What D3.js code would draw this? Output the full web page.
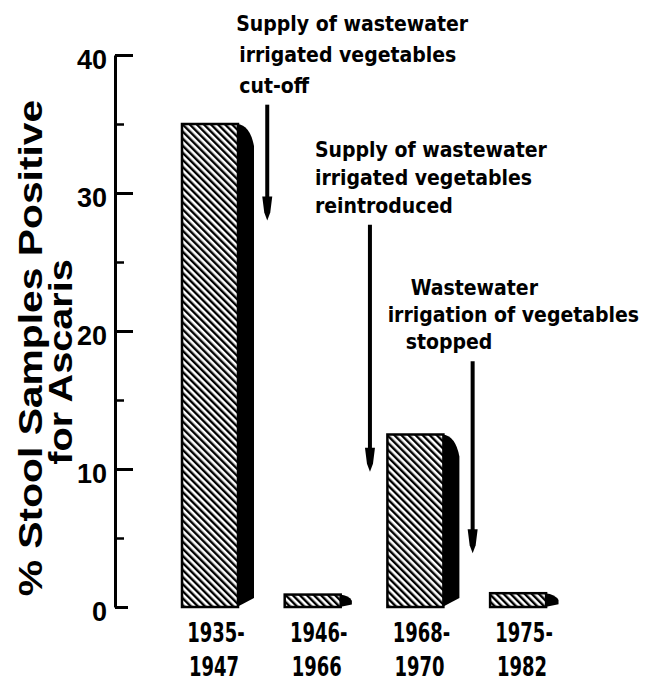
<!DOCTYPE html>
<html>
<head>
<meta charset="utf-8">
<script src="https://cdn.jsdelivr.net/npm/d3@7"></script>
<style>
  body { margin: 0; background: #fff; }
  svg { display: block; }
</style>
</head>
<body>
<div id="chart"></div>
<script>
// periods and % of stool samples positive for Ascaris
var periods = ["1935-1947", "1946-1966", "1968-1970", "1975-1982"];
var positive = [35, 0.9, 12.5, 1];

var yTicks = [0, 10, 20, 30, 40];
var yMinorTicks = [5, 15, 25, 35];

// events shown as arrows: text lines, period the arrow follows, arrow top / tip (in %)
var eventText = [
  ["Supply of wastewater", "irrigated  vegetables", "cut-off"],
  ["Supply of wastewater", "irrigated  vegetables", "reintroduced"],
  ["Wastewater", "irrigation of vegetables", "stopped"]
];
var eventAfter = ["1935-1947", "1946-1966", "1968-1970"];
var eventFrom = [36.4, 27.7, 17.8];
var eventTo = [28, 9.8, 3.9];

var width = 651, height = 682;
var narrow = "'DejaVu Sans Condensed', 'Liberation Sans Narrow', sans-serif";

var svg = d3.select("#chart")
            .append("svg")
            .attr("width", width)
            .attr("height", height);

var defs = svg.append("defs");
var pat = defs.append("pattern")
   .attr("id", "hatch")
   .attr("patternUnits", "userSpaceOnUse")
   .attr("width", 5)
   .attr("height", 5)
   .attr("patternTransform", "rotate(-45)");
pat.append("rect").attr("width", 5).attr("height", 5).attr("fill", "#fff");
pat.append("line")
   .attr("x1", 1.2).attr("y1", 0)
   .attr("x2", 1.2).attr("y2", 5)
   .attr("stroke", "#000")
   .attr("stroke-width", 2.4);

var y = d3.scaleLinear().domain([0, 40]).range([607, 55]);
var x = d3.scaleBand().domain(periods).range([182, 182 + 4 * 102.7]).padding(0).align(0);

var frontW = 56, sideW = 16;
var axisX = 115;

// y axis: labels on the left, ticks pointing right
var yAxis = svg.append("g")
   .attr("transform", "translate(" + axisX + ",0)")
   .call(d3.axisLeft(y).tickValues(yTicks).tickSizeInner(-18).tickSizeOuter(0).tickPadding(8));
yAxis.select(".domain").attr("stroke-width", 3);
yAxis.selectAll(".tick line").attr("stroke-width", 3);
yAxis.selectAll(".tick text")
   .attr("font-family", "'Liberation Sans', Arial, sans-serif")
   .attr("font-weight", "bold")
   .attr("font-size", 27)
   .attr("fill", "#000")
   .attr("dy", "0.5em");
yAxis.selectAll(".tick").filter(function(d) { return d === 0; })
   .select("line").attr("x2", 13);

var yMinor = svg.append("g")
   .attr("transform", "translate(" + axisX + ",0)")
   .call(d3.axisLeft(y).tickValues(yMinorTicks).tickSizeInner(-9).tickSizeOuter(0).tickFormat(""));
yMinor.select(".domain").remove();
yMinor.selectAll(".tick line").attr("stroke-width", 2.5);

// y axis title (wide bold face, stretched along the text)
var title = svg.append("g")
   .attr("font-family", "'Liberation Sans', Arial, sans-serif")
   .attr("font-weight", "bold")
   .attr("fill", "#000")
   .attr("text-anchor", "middle");
title.append("text")
   .attr("transform", "translate(42,348) rotate(-90) scale(1.2,1)")
   .attr("font-size", 34)
   .text("% Stool Samples Positive");
title.append("text")
   .attr("transform", "translate(72,362) rotate(-90) scale(1.2,1)")
   .attr("font-size", 33)
   .text("for Ascaris");

// bars: hatched front face and a solid side with a rounded top corner
var bars = svg.selectAll(".bar")
   .data(periods)
   .enter()
   .append("g")
   .attr("class", "bar");

bars.append("path")
   .attr("fill", "#000")
   .attr("d", function(d, i) {
      var fr = x(d) + frontW, top = y(positive[i]), base = y(0);
      var h = base - top;
      var sw = Math.min(sideW, h * 0.9);
      var ch = Math.min(22, h * 0.5), sl = Math.min(9, h * 0.2);
      return "M" + (fr - 1) + "," + top +
             " Q" + (fr + sw * 0.75) + "," + (top + 1) + " " + (fr + sw) + "," + (top + ch) +
             " L" + (fr + sw) + "," + (base - sl) +
             " L" + (fr - 1) + "," + base + " Z";
   });

bars.append("rect")
   .attr("x", function(d) { return x(d); })
   .attr("y", function(d, i) { return y(positive[i]); })
   .attr("width", frontW)
   .attr("height", function(d, i) { return y(0) - y(positive[i]); })
   .attr("fill", "url(#hatch)")
   .attr("stroke", "#000")
   .attr("stroke-width", 2.5);

// period labels, two lines, condensed heavy digits
var labelStyle = function(sel) {
  sel.attr("font-family", narrow)
     .attr("font-weight", "bold")
     .attr("font-size", 27)
     .attr("fill", "#000")
     .attr("text-anchor", "middle");
};
svg.selectAll(".plabel1")
   .data(periods)
   .enter()
   .append("text")
   .attr("class", "plabel1")
   .call(labelStyle)
   .attr("transform", function(d) { return "translate(" + (x(d) + 34) + ",642) scale(0.74,1)"; })
   .text(function(d) { return d.split("-")[0] + "-"; });
svg.selectAll(".plabel2")
   .data(periods)
   .enter()
   .append("text")
   .attr("class", "plabel2")
   .call(labelStyle)
   .attr("transform", function(d) { return "translate(" + (x(d) + 32) + ",676) scale(0.74,1)"; })
   .text(function(d) { return d.split("-")[1]; });

// event arrows
var arrowX = function(i) { return x(eventAfter[i]) + x.step() * 0.83; };

var arrows = svg.selectAll(".arrow")
   .data(eventText)
   .enter()
   .append("g")
   .attr("class", "arrow");
arrows.append("line")
   .attr("x1", function(d, i) { return arrowX(i); })
   .attr("x2", function(d, i) { return arrowX(i); })
   .attr("y1", function(d, i) { return y(eventFrom[i]); })
   .attr("y2", function(d, i) { return y(eventTo[i]) - 20; })
   .attr("stroke", "#000")
   .attr("stroke-width", 4);
arrows.append("path")
   .attr("fill", "#000")
   .attr("d", function(d, i) {
      var ax = arrowX(i), tip = y(eventTo[i]);
      return "M" + (ax - 5) + "," + (tip - 24) +
             " L" + (ax + 5) + "," + (tip - 24) +
             " L" + (ax + 3) + "," + (tip - 8) +
             " L" + ax + "," + tip +
             " L" + (ax - 3) + "," + (tip - 8) + " Z";
   });

// event text: left edge of each line relative to arrow, line baselines above arrow top
var textDx = [[-31, -28, -28], [-55, -55, -55], [-62, -85, -67]];
var lineGap = [31, 28, 27];

arrows.append("text")
   .attr("font-family", narrow)
   .attr("font-weight", "bold")
   .attr("font-size", 21)
   .attr("fill", "#000")
   .each(function(d, i) {
      var t = d3.select(this);
      var top = y(eventFrom[i]);
      var n = d.length;
      d.forEach(function(line, j) {
         t.append("tspan")
          .attr("x", arrowX(i) + textDx[i][j])
          .attr("y", top - 12 - (n - 1 - j) * lineGap[i])
          .text(line);
      });
   });
</script>
</body>
</html>
